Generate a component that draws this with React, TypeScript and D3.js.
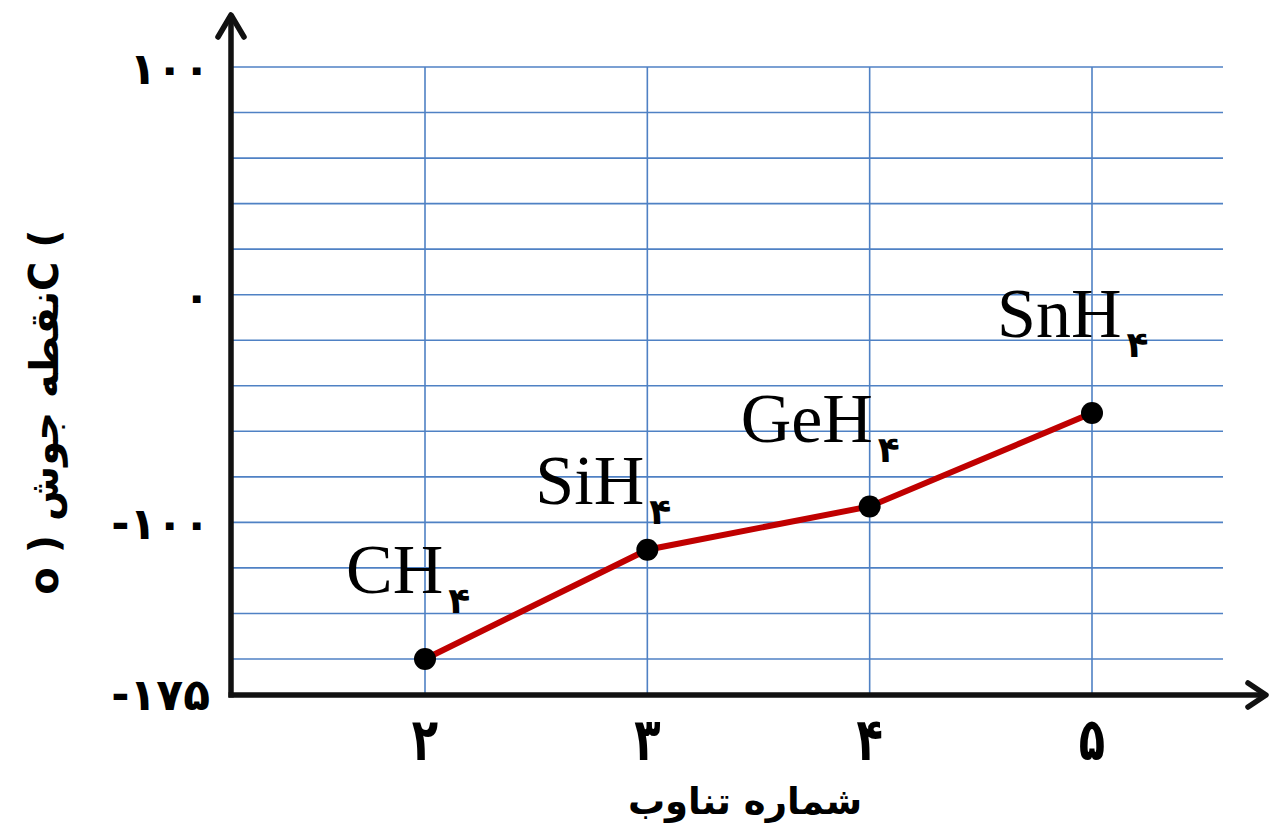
import * as d3 from "d3";

// periods on the x axis and the hydrides plotted at each one
const periods = [2, 3, 4, 5];
const compounds = ["CH", "SiH", "GeH", "SnH"];
const subscript = "۴";
const boilingPoints = [-160, -112, -93, -52];

const xTickLabels = ["۲", "۳", "۴", "۵"];
const yTickValues = [100, 0, -100, -175];
const yTickLabels = ["۱۰۰", "۰", "-۱۰۰", "-۱۷۵"];

// where each formula label sits relative to its point
const labelOffsets = [
  [-79, -66],
  [-112, -46],
  [-129, -64],
  [-95, -76],
];

const W = 1270;
const H = 826;
const axisX = 231;
const axisY = 695;
const gridRight = 1223;
const gridBlue = "#4f81c4";
const persianFont = "'DejaVu Sans', sans-serif";

export default function App() {
  const x = d3.scaleLinear().domain([2, 5]).range([425, 1092]);
  const y = d3.scaleLinear().domain([100, -160]).range([67, 659]);

  const gridValues = d3.range(100, -161, -20);
  const points = periods.map((p, i) => ({ p, v: boilingPoints[i], name: compounds[i], off: labelOffsets[i] }));

  const line = d3
    .line<{ p: number; v: number }>()
    .x((d) => x(d.p))
    .y((d) => y(d.v));

  return (
    <div style={{ position: "absolute", left: 0, top: 0 }}>
      <svg width={W} height={H} style={{ display: "block", background: "#fff" }}>
        {/* grid */}
        {gridValues.map((v) => (
          <line key={"h" + v} x1={axisX} x2={gridRight} y1={y(v)} y2={y(v)} stroke={gridBlue} strokeWidth={1.6} />
        ))}
        {periods.map((p) => (
          <line key={"v" + p} x1={x(p)} x2={x(p)} y1={y(100)} y2={axisY} stroke={gridBlue} strokeWidth={1.6} />
        ))}

        {/* axes with open arrowheads */}
        <g stroke="#111" strokeWidth={5.5} fill="none" strokeLinecap="round" strokeLinejoin="round">
          <line x1={axisX} x2={axisX} y1={axisY + 2.5} y2={15} strokeLinecap="butt" />
          <polyline points={`${axisX - 13},37 ${axisX},15 ${axisX + 13},37`} />
          <line x1={axisX - 2.5} x2={1266} y1={axisY} y2={axisY} strokeLinecap="butt" />
          <polyline points={`1248,683 1266,${axisY} 1248,707`} />
        </g>

        {/* data line and points */}
        <path d={line(points) ?? ""} fill="none" stroke="#c00000" strokeWidth={6} />
        {points.map((d) => (
          <circle key={d.name} cx={x(d.p)} cy={y(d.v)} r={11} fill="#000" />
        ))}

        {/* formula labels */}
        {points.map((d) => (
          <text
            key={"l" + d.name}
            x={x(d.p) + d.off[0]}
            y={y(d.v) + d.off[1]}
            fontFamily="'Liberation Serif', 'Times New Roman', serif"
            fontSize={70}
            fill="#000"
          >
            {d.name}
            <tspan dx={5} dy={20} fontFamily={persianFont} fontWeight="bold" fontSize={36}>
              {subscript}
            </tspan>
          </text>
        ))}

        {/* y tick labels */}
        {yTickValues.map((v, i) => (
          <text
            key={"yt" + v}
            x={210}
            y={y(v) + 17}
            textAnchor="end"
            fontFamily={persianFont}
            fontWeight="bold"
            fontSize={44}
            letterSpacing={1}
            style={{ direction: "ltr" }}
          >
            {yTickLabels[i]}
          </text>
        ))}

        {/* x tick labels, slightly condensed like the original typeface */}
        {periods.map((p, i) => (
          <text
            key={"xt" + p}
            transform={`translate(${x(p)},760) scale(0.8,1.1)`}
            textAnchor="middle"
            fontFamily={persianFont}
            fontWeight="bold"
            fontSize={54}
          >
            {xTickLabels[i]}
          </text>
        ))}

        {/* axis titles */}
        <text
          x={745}
          y={814}
          textAnchor="middle"
          fontFamily={persianFont}
          fontWeight="bold"
          fontSize={37}
          style={{ direction: "rtl" }}
        >
          شماره تناوب
        </text>
        <text
          transform="translate(58,412) rotate(-90)"
          textAnchor="middle"
          fontFamily={persianFont}
          fontWeight="bold"
          fontSize={40}
          style={{ direction: "ltr" }}
        >
          {"o ) نقطه جوشC ("}
        </text>
      </svg>
    </div>
  );
}
